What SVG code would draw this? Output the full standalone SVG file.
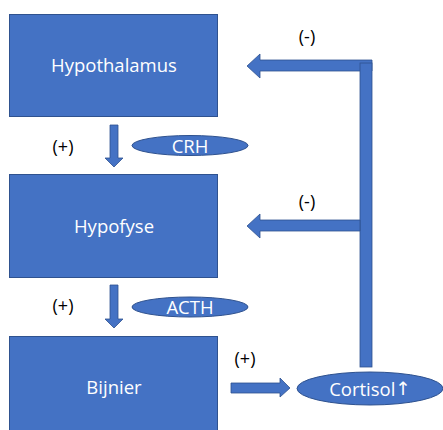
<svg xmlns="http://www.w3.org/2000/svg" width="443" height="430" viewBox="0 0 443 430">
<style>
.box{fill:#4472C4;stroke:#2F528F;stroke-width:1}
.conn{fill:#4472C4;stroke:#2F528F;stroke-width:0.8}
.wt{fill:#ffffff;font-family:"Open Sans","Liberation Sans",sans-serif;font-size:18.5px;text-anchor:middle;dominant-baseline:central}
.bt{fill:#000000;font-family:"Open Sans","Liberation Sans",sans-serif;font-size:18px;text-anchor:middle;dominant-baseline:central}
.ar{font-family:"DejaVu Sans",sans-serif}
</style>
<rect width="443" height="430" fill="#ffffff"/>
<g id="hypothalamus"><rect class="box" x="9.5" y="14.5" width="208" height="102"/><text class="wt" x="114" y="64.5">Hypothalamus</text></g>
<g id="hypofyse"><rect class="box" x="9.5" y="174.5" width="208" height="103"/><text class="wt" x="114" y="225.5">Hypofyse</text></g>
<g id="bijnier"><rect class="box" x="9.5" y="336.5" width="208" height="100"/><text class="wt" x="114" y="386.5">Bijnier</text></g>
<g id="crh"><ellipse class="box" cx="190" cy="145.5" rx="58" ry="10"/><text class="wt" x="190" y="145">CRH</text></g>
<g id="acth"><ellipse class="box" cx="190" cy="307" rx="58" ry="10"/><text class="wt" x="190" y="306.5">ACTH</text></g>
<g id="cortisol"><ellipse class="box" cx="370" cy="388.5" rx="73" ry="16.5"/><text class="wt" x="370" y="388">Cortisol<tspan class="ar">↑</tspan></text></g>
<g id="connectors">
<polygon class="conn" points="110,125 118,125 118,158 123,158 114,167 105,158 110,158"/>
<polygon class="conn" points="110,285 118,285 118,319 123,319 114,328 105,319 110,319"/>
<polygon class="conn" points="231,383 280,383 280,378 290,388 280,397 280,393 231,393"/>
<polygon class="conn" points="247,66 260,54 260,60 372,60 372,71 260,71 260,78"/>
<rect class="conn" x="360" y="63" width="12" height="304"/>
<polygon class="conn" points="247,226 260,214 260,220 360,220 360,231 260,231 260,238"/>
</g>
<g id="labels">
<text class="bt" x="63" y="146">(+)</text>
<text class="bt" x="63" y="305">(+)</text>
<text class="bt" x="245" y="358">(+)</text>
<text class="bt" x="307" y="36">(-)</text>
<text class="bt" x="307" y="201">(-)</text>
</g>
</svg>
